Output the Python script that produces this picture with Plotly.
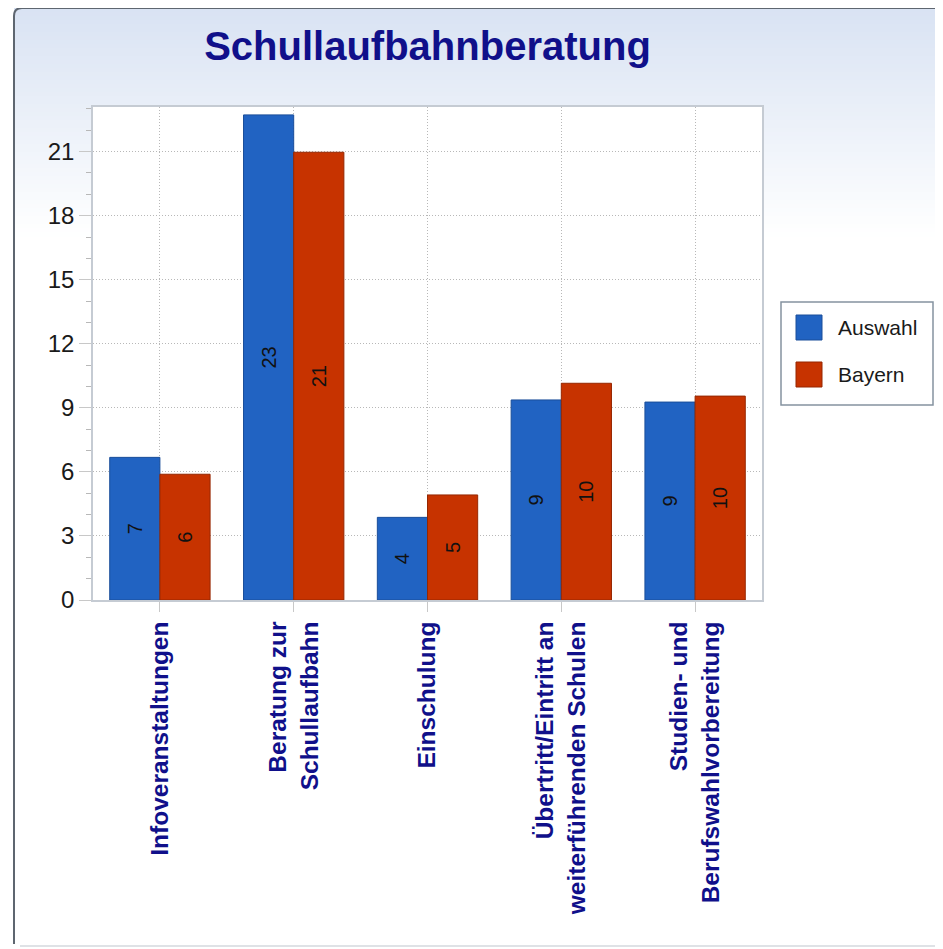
import plotly.graph_objects as go

# ---------------- data ----------------
categories = [
    "Infoveranstaltungen",
    "Beratung zur<br>Schullaufbahn",
    "Einschulung",
    "Übertritt/Eintritt an<br>weiterführenden Schulen",
    "Studien- und<br>Berufswahlvorbereitung",
]
auswahl = [6.68, 22.72, 3.87, 9.37, 9.27]
bayern = [5.89, 20.97, 4.92, 10.15, 9.55]
series_names = ["Auswahl", "Bayern"]
y_ticks = [0, 3, 6, 9, 12, 15, 18, 21]
title_text = "Schullaufbahnberatung"

# ---------------- style ----------------
OFF = 8  # page body margin of the browser
W, H = 943 - OFF, 949 - OFF
L, R, T, B = 93, 762, 107, 600  # plot area in page pixels
colors = ["#2163C2", "#C73300"]
line_colors = ["#1A4E9A", "#962700"]
navy = "#10108A"
FONT = "Liberation Sans, Arial, sans-serif"


def px(x):
    return (x - L) / (R - L)


def py(y):
    return (B - y) / (B - T)


fig = go.Figure()
for name, vals, c, lc in zip(series_names, [auswahl, bayern], colors, line_colors):
    fig.add_trace(go.Bar(
        name=name, x=categories, y=vals,
        marker=dict(color=c, line=dict(color=lc, width=1)),
        texttemplate="%{y:.0f}", textposition="inside",
        insidetextanchor="middle", textangle=-90,
        textfont=dict(family=FONT, size=20, color="#111111"),
        constraintext="none", showlegend=False,
    ))

shapes = []
# background gradient (top light blue -> white)
top_c = (217, 227, 243)
y0g, y1g = 8, 236
step = 4
yy = y0g
while yy < y1g:
    f = (yy - y0g) / (y1g - y0g)
    col = tuple(round(top_c[i] + (255 - top_c[i]) * f) for i in range(3))
    shapes.append(dict(type="rect", xref="paper", yref="paper",
                       x0=px(14), x1=px(960), y0=py(yy + step + 0.5), y1=py(yy),
                       fillcolor="rgb(%d,%d,%d)" % col, line=dict(width=0), layer="below"))
    yy += step
# white plot area
shapes.append(dict(type="rect", xref="paper", yref="paper", x0=0, x1=1, y0=0, y1=1,
                   fillcolor="white", line=dict(width=0), layer="below"))
# outer frame (left + top dark, bottom light)
frame_path = "M %f,%f L %f,%f Q %f,%f %f,%f L %f,%f" % (
    px(14), py(944), px(14), py(16), px(14), py(8), px(22), py(8), px(960), py(8))
shapes.append(dict(type="path", xref="paper", yref="paper", path=frame_path,
                   line=dict(color="#5E6670", width=2), layer="above"))
shapes.append(dict(type="line", xref="paper", yref="paper", x0=px(20), x1=px(960),
                   y0=py(946), y1=py(946), line=dict(color="#D5D9DE", width=1.5), layer="above"))
# legend box
shapes.append(dict(type="rect", xref="paper", yref="paper", x0=px(781), x1=px(933),
                   y0=py(405), y1=py(302), fillcolor="white",
                   line=dict(color="#8593A0", width=1.5), layer="above"))
annotations = []
for i, (name, c, lc) in enumerate(zip(series_names, colors, line_colors)):
    ytop = 315 + i * 47
    shapes.append(dict(type="rect", xref="paper", yref="paper", x0=px(796), x1=px(822),
                       y0=py(ytop + 25), y1=py(ytop), fillcolor=c,
                       line=dict(color=lc, width=1), layer="above"))
    annotations.append(dict(xref="paper", yref="paper", x=px(836), y=py(ytop + 12.5),
                            text=name, showarrow=False, xanchor="left", yanchor="middle",
                            font=dict(family=FONT, size=21, color="#1A1A1A")))

fig.update_layout(
    width=W, height=H,
    margin=dict(l=L - OFF, r=943 - R, t=T - OFF, b=949 - B, autoexpand=False),
    paper_bgcolor="white", plot_bgcolor="white",
    barmode="group", bargap=0.25, bargroupgap=0,
    showlegend=False,
    title=dict(text="<b>%s</b>" % title_text, x=0.5, xref="paper", xanchor="center",
               y=1 - (46 - OFF) / H, yref="container", yanchor="middle",
               font=dict(family=FONT, size=40, color=navy)),
    shapes=shapes, annotations=annotations,
    font=dict(family=FONT),
)
fig.update_xaxes(
    showline=True, linecolor="#C5CBD3", linewidth=1.5, mirror=True,
    showgrid=True, gridcolor="#B8B8B8", griddash="1px,2px", gridwidth=1,
    ticks="outside", ticklen=10, tickcolor="#C8C8C8",
    tickangle=-90, ticklabelstandoff=0,
    tickfont=dict(family=FONT, size=24.5, color=navy, weight="bold"),
)
fig.update_yaxes(
    range=[0, 23.09], tickvals=y_ticks,
    showline=True, linecolor="#C5CBD3", linewidth=1.5, mirror=True,
    showgrid=True, gridcolor="#B8B8B8", griddash="1px,2px", gridwidth=1,
    zeroline=False,
    ticks="outside", ticklen=12, tickcolor="#C8C8C8", ticklabelstandoff=0,
    tickfont=dict(family=FONT, size=24, color="#1A1A1A"),
    minor=dict(dtick=1, tick0=0, ticks="outside", ticklen=5, tickcolor="#B8B8B8", showgrid=False),
)

fig.write_html("out.html")
